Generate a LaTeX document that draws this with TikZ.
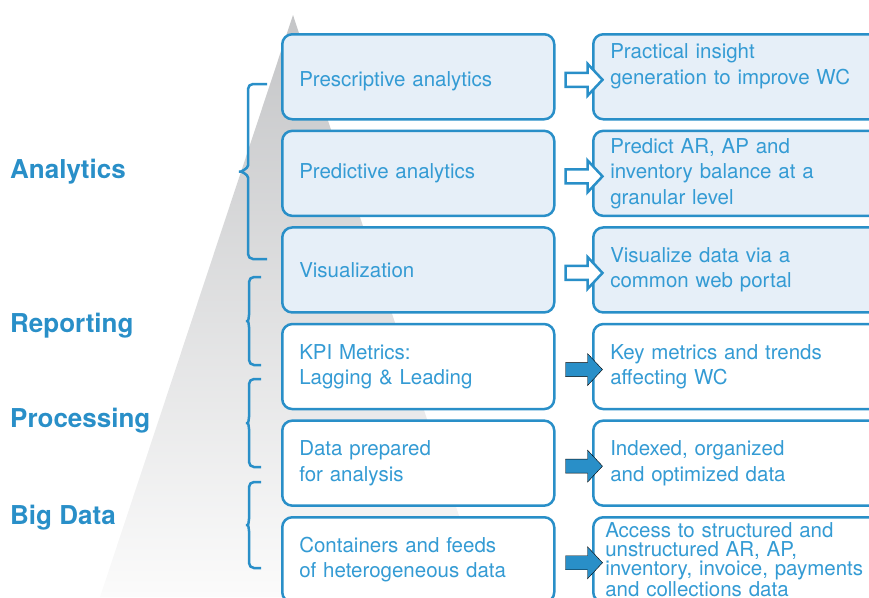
\documentclass[tikz,border=0pt]{standalone}
\usepackage{fontspec}
\setmainfont{TeX Gyre Heros}
\usetikzlibrary{calc}

\definecolor{wcblue}{RGB}{41,143,200}
\definecolor{wctext}{RGB}{52,155,212}
\definecolor{boxfill}{RGB}{230,239,248}
\definecolor{pyrtop}{RGB}{196,197,199}
\definecolor{pyrbot}{RGB}{251,251,251}

\tikzset{
  stage/.style={draw=wcblue, line width=2.5pt, rounded corners=10pt, anchor=north west,
    minimum width=272pt, minimum height=85pt, text width=238pt, inner xsep=17pt,
    align=left, text=wctext, font=\fontsize{20.5}{25.5}\selectfont},
  outcome/.style={stage, minimum width=300pt, text width=266pt},
  level/.style={anchor=base west, text=wcblue, inner sep=0pt, font=\fontsize{26}{30}\selectfont\bfseries},
  brace/.style={draw=wcblue, line width=2.5pt, rounded corners=5pt},
  openarrow/.style={draw=wcblue, fill=white, line width=2.5pt, line join=miter},
  fullarrow/.style={fill=wcblue},
}

% curly bracket: x of stem, top, bottom, x of tip, x of ends
\newcommand{\levelbrace}[5]{%
  \pgfmathsetmacro\bmid{(#2+#3)/2}
  \draw[brace] (#5,#2) -- (#1,#2) -- (#1,\bmid-11)
    .. controls (#1,\bmid-3) and (#4+5,\bmid) .. (#4,\bmid)
    .. controls (#4+5,\bmid) and (#1,\bmid+3) .. (#1,\bmid+11)
    -- (#1,#3) -- (#5,#3);
}
% block arrow from a coordinate: style, start
\newcommand{\blockarrow}[2]{%
  \draw[#1] ($(#2)+(0,-7)$) -- ++(22,0) -- ++(0,-9) -- ++(15,16) -- ++(-15,16)
    -- ++(0,-9) -- ++(-22,0) -- cycle;
}

\begin{document}
\begin{tikzpicture}[x=1pt,y=-1pt]
  \useasboundingbox (0,0) rectangle (869,597);
  \clip (0,0) rectangle (869,597);

  % pyramid behind the stages
  \shade[top color=pyrtop, bottom color=pyrbot] (293,15) -- (100,597) -- (486,597) -- cycle;

  % stages
  \node[stage, fill=boxfill] (l1) at (281,33)
    {\raisebox{0pt}[\dimexpr\height+9pt\relax][\depth]{Prescriptive analytics}};
  \node[stage, fill=boxfill] (l2) at (281,129.6) {Predictive analytics};
  \node[stage, fill=boxfill] (l3) at (281,226.2) {Visualization};
  \node[stage, fill=white] (l4) at (281,322.8) {KPI Metrics:\\Lagging \& Leading};
  \node[stage, fill=white] (l5) at (281,419.4) {Data prepared\\for analysis};
  \node[stage, fill=white] (l6) at (281,516) {Containers and feeds\\of heterogeneous data};

  % what each stage delivers
  \node[outcome, fill=boxfill] (r1) at (592,33) {Practical insight\\generation to improve WC\\\mbox{}};
  \node[outcome, fill=boxfill] (r2) at (592,129.6) {Predict AR, AP and\\inventory balance at a\\granular level};
  \node[outcome, fill=boxfill] (r3) at (592,226.2) {Visualize data via a\\common web portal};
  \node[outcome, fill=white] (r4) at (592,322.8) {Key metrics and trends\\affecting WC};
  \node[outcome, fill=white] (r5) at (592,419.4) {Indexed, organized\\and optimized data};
  \node[outcome, fill=white, inner xsep=12pt, text width=276pt,
        font=\fontsize{20.5}{19}\selectfont] (r6) at (592,516)
    {Access to structured and\\unstructured AR, AP,\\inventory, invoice, payments\\and collections data};

  % arrows between the columns
  \foreach \i/\s in {1/openarrow,2/openarrow,3/openarrow,4/fullarrow,5/fullarrow,6/fullarrow}{
    \coordinate (a\i) at ($(l\i.east)+(10,3)$);
    \blockarrow{\s}{a\i}
  }

  % levels and their brackets
  \levelbrace{248}{84}{259}{236}{267}
  \levelbrace{249}{277}{365}{243}{261}
  \levelbrace{249}{379}{467}{243}{261}
  \levelbrace{249}{482}{568}{243}{261}

  \node[level] (ana) at (10,178) {Analytics};
  \node[level] (rep) at (10,332) {Reporting};
  \node[level] (pro) at (10,427) {Processing};
  \node[level] (big) at (10,524) {Big Data};
\end{tikzpicture}
\end{document}
